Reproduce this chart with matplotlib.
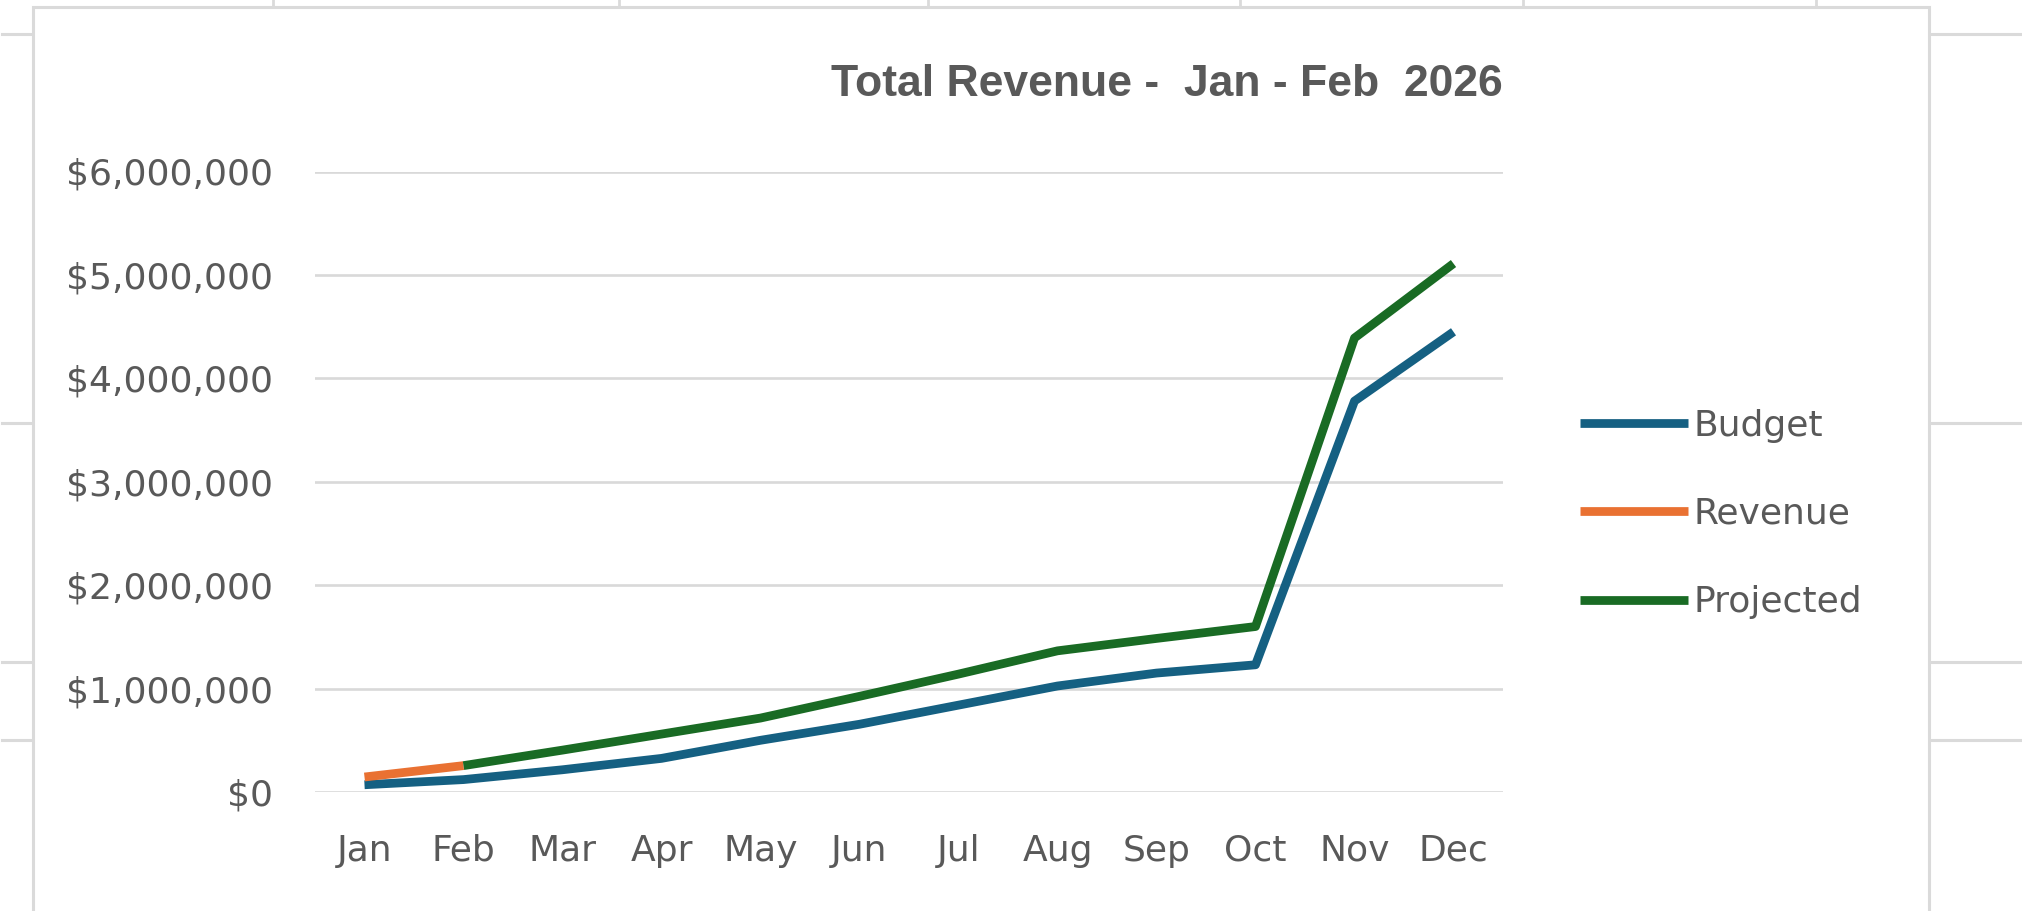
"""
Total revenue vs budget / projection, Excel-style line chart (Jan - Feb 2026 actuals).
"""
import matplotlib
matplotlib.use("Agg")
import matplotlib.pyplot as plt
from matplotlib.lines import Line2D
from matplotlib.patches import Rectangle
from matplotlib.ticker import FuncFormatter, MultipleLocator

MONTHS    = ["Jan", "Feb", "Mar", "Apr", "May", "Jun",
             "Jul", "Aug", "Sep", "Oct", "Nov", "Dec"]
BUDGET    = [70_000, 120_000, 215_000, 325_000, 500_000, 655_000,
             840_000, 1_025_000, 1_150_000, 1_230_000, 3_780_000, 4_450_000]
REVENUE   = [145_000, 255_000]                      # Jan, Feb actuals
PROJECTED = [None, 255_000, 405_000, 560_000, 715_000, 925_000,
             1_140_000, 1_365_000, 1_485_000, 1_600_000, 4_390_000, 5_110_000]

COLORS = {"Budget": "#156082", "Revenue": "#E97132", "Projected": "#196B24"}
TEXT   = "#595959"
GRID   = "#D9D9D9"
SHEET  = "#DADADA"

W, H = 2022, 911
fig = plt.figure(figsize=(W / 100, H / 100), dpi=100)
fig.patch.set_facecolor("white")

# spreadsheet cell lines peeking around the chart object
for x in [273, 619, 928, 1240, 1523, 1816]:
    fig.add_artist(Line2D([x / W, x / W], [1, 1 - 8 / H], color=SHEET, lw=2, zorder=-2))
for y in [34, 423, 662, 740]:
    fig.add_artist(Line2D([2 / W, 33 / W], [1 - y / H] * 2, color=SHEET, lw=2.2, zorder=-2))
    fig.add_artist(Line2D([1929 / W, 1], [1 - y / H] * 2, color=SHEET, lw=2.2, zorder=-2))
fig.add_artist(Rectangle((33 / W, -0.05), (1929 - 33) / W, 1.05 - 7 / H,
                         facecolor="white", edgecolor=SHEET, lw=2.2, zorder=-1))

ax = fig.add_axes([315 / W, 1 - 792 / H, (1503 - 315) / W, (792 - 171.5) / H])
ax.set_facecolor("none")
ax.set_zorder(2)
x = list(range(len(MONTHS)))

line_kw = dict(linewidth=6.3, solid_capstyle="butt", solid_joinstyle="round")
ax.plot(x, BUDGET, color=COLORS["Budget"], label="Budget", **line_kw)
ax.plot(x[:len(REVENUE)], REVENUE, color=COLORS["Revenue"], label="Revenue", **line_kw)
px = [i for i, v in zip(x, PROJECTED) if v is not None]
pv = [v for v in PROJECTED if v is not None]
ax.plot(px, pv, color=COLORS["Projected"], label="Projected", **line_kw)

ax.set_xlim(-0.5, len(MONTHS) - 0.5)
ax.set_ylim(0, 6_000_000)
ax.yaxis.set_major_locator(MultipleLocator(1_000_000))
ax.yaxis.set_major_formatter(FuncFormatter(lambda v, _: f"${v:,.0f}"))
ax.set_xticks(x)
ax.set_xticklabels(MONTHS)
ax.grid(axis="y", color=GRID, linewidth=1.9)
ax.set_axisbelow(True)
for s in ax.spines.values():
    s.set_visible(False)
ax.tick_params(axis="both", length=0, labelsize=26, labelcolor=TEXT)
ax.tick_params(axis="y", pad=30)
ax.tick_params(axis="x", pad=30)

leg = ax.legend(loc="center left", bbox_to_anchor=(1580 / W, 1 - 514 / H),
                bbox_transform=fig.transFigure, frameon=False, fontsize=26,
                handlelength=3.0, handletextpad=0.15, labelspacing=1.5,
                borderpad=0, borderaxespad=0)
for t in leg.get_texts():
    t.set_color(TEXT)

fig.text(1167 / W, 1 - 85 / H, "Total Revenue -  Jan - Feb  2026",
         ha="center", va="center", fontsize=32, fontweight="bold", color=TEXT,
         family=["Liberation Sans", "DejaVu Sans"])

fig.savefig("out.png", dpi=100)
